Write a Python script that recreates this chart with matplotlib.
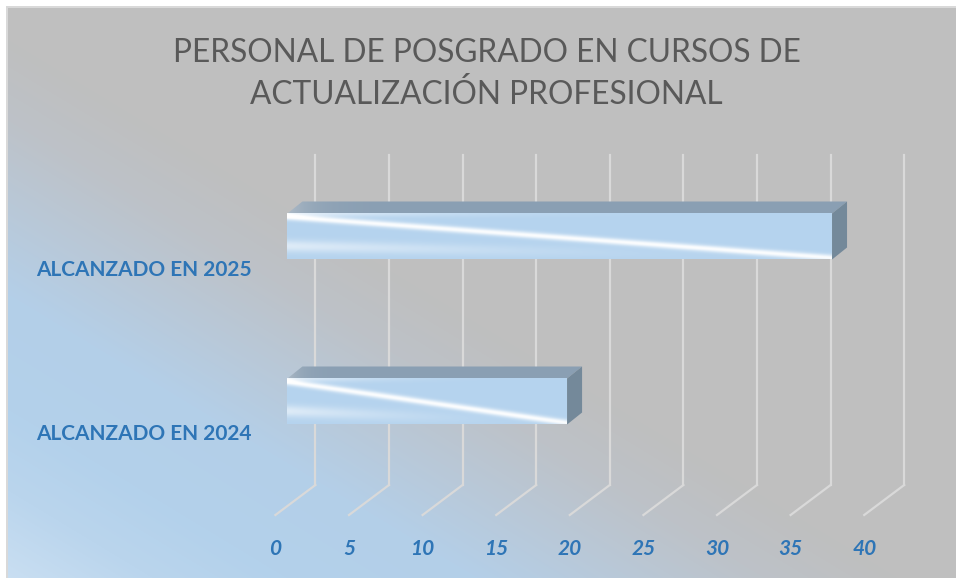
import numpy as np
import matplotlib.pyplot as plt
from matplotlib.patches import Polygon
from matplotlib.colors import to_rgb

categories = ['ALCANZADO EN 2024', 'ALCANZADO EN 2025']
values = [19, 37]
ticks = [0, 5, 10, 15, 20, 25, 30, 35, 40]
title = 'PERSONAL DE POSGRADO EN CURSOS DE\nACTUALIZACIÓN PROFESIONAL'

W, H = 956, 578
blue_txt = '#2E75B6'
grid_c = '#D9D9D9'

fig = plt.figure(figsize=(W / 100, H / 100), dpi=100)

# fondo: degradado lineal a 45 grados, azul abajo a la izquierda y gris arriba
bg = fig.add_axes([0, 0, 1, 1], zorder=0)
yy, xx = np.mgrid[0:H, 0:W]
t = (xx / W + (H - yy) / H) / 2
stops_t = [0, 0.08, 0.15, 0.25, 0.33, 0.40, 0.47]
stops_c = ['#CADFF2', '#BAD5ED', '#B3D1EB', '#B4CFE8', '#B9C8D7', '#BDC2C8', '#BFBFBF']
img = np.zeros((H, W, 3))
for k in range(3):
    img[..., k] = np.interp(t, stops_t, [to_rgb(c)[k] for c in stops_c])
img[:6, :] = 1
img[:, :6] = 1
img[6:8, 6:] = to_rgb(grid_c)
img[6:, 6:8] = to_rgb(grid_c)
bg.imshow(img, aspect='auto', interpolation='nearest')
bg.axis('off')

# plano frontal del grafico 3D
x0px, ppu = 275.4, 14.72
front_bot, front_top = 515, 185
ax = fig.add_axes([x0px / W, (H - front_bot) / H, 40 * ppu / W, (front_bot - front_top) / H], zorder=1)
ax.set_facecolor('none')
for s in ax.spines.values():
    s.set_visible(False)

cat_px = (front_bot - front_top) / 2
dep_x, dep_y = 40 / ppu, 30 / cat_px

# rejilla: pared del fondo + piso
for tk in ticks:
    ax.plot([tk + dep_x, tk + dep_x], [-0.5 + dep_y, 1.5 + dep_y], color=grid_c, lw=1.6, clip_on=False, zorder=1)
    ax.plot([tk, tk + dep_x], [-0.5, -0.5 + dep_y], color=grid_c, lw=1.6, clip_on=False, zorder=1)

# brillo de la cara frontal
uu, ww = np.meshgrid(np.linspace(0, 1, 400), np.linspace(0, 1, 80))
d = ww - (0.08 + 0.9 * uu)
shine = 0.95 * np.exp(-(d / 0.07) ** 2)
shine += 0.55 * np.exp(-((ww - (0.72 + 0.25 * uu)) / 0.13) ** 2) * (1 - uu) ** 2
shine += 0.6 * np.exp(-(ww / 0.08) ** 2) * (1 - uu) ** 3
shine = np.clip(shine, 0, 1)
base = np.array(to_rgb('#B5D3EE'))
face = base + (1 - base) * shine[..., None]

# cara superior: un poco mas clara en la esquina izquierda
uu2 = np.linspace(0, 1, 300)[None, :]
top_base = np.array(to_rgb('#8A9FB3'))
top_light = np.array(to_rgb('#AFBCC8'))
fade = np.exp(-uu2 / 0.04)[..., None]

bx0 = 12 / ppu
boff = 31 / cat_px
bh = 46 / cat_px
bdx, bdy = 15 / ppu, 12 / cat_px
for i, val in enumerate(values):
    yc = i + boff
    yb, yt = yc - bh / 2, yc + bh / 2
    ax.imshow(face, extent=(bx0, bx0 + val, yb, yt), aspect='auto', zorder=3, interpolation='bilinear')
    top = Polygon([(bx0, yt), (bx0 + val, yt), (bx0 + val + bdx, yt + bdy), (bx0 + bdx, yt + bdy)],
                  closed=True, facecolor='none', edgecolor='none', zorder=3)
    ax.add_patch(top)
    top_img = top_base + (top_light - top_base) * fade * np.ones((2, 1, 1))
    im = ax.imshow(top_img, extent=(bx0, bx0 + val + bdx, yt, yt + bdy), aspect='auto', zorder=3,
                   interpolation='bilinear')
    im.set_clip_path(top)
    side = Polygon([(bx0 + val, yb), (bx0 + val, yt), (bx0 + val + bdx, yt + bdy), (bx0 + val + bdx, yb + bdy)],
                   closed=True, facecolor='#74899A', edgecolor='none', zorder=3)
    ax.add_patch(side)

ax.set_xlim(0, 40)
ax.set_ylim(-0.5, 1.5)

ax.set_yticks([0, 1], categories)
ax.set_xticks(ticks, [str(tk) for tk in ticks])
ax.tick_params(axis='both', length=0)
ax.tick_params(axis='y', pad=17)
ax.tick_params(axis='x', pad=17)
for lab in ax.get_yticklabels():
    lab.set_fontfamily('Lato')
    lab.set_fontweight('bold')
    lab.set_fontsize(15)
    lab.set_color(blue_txt)
for lab in ax.get_xticklabels():
    lab.set_fontfamily('Lato')
    lab.set_fontweight('bold')
    lab.set_fontstyle('italic')
    lab.set_fontsize(15)
    lab.set_color(blue_txt)

fig.text(486.5 / W, 1 - 74 / H, title, ha='center', va='center', fontsize=22.8,
         color='#595959', family='Lato', linespacing=1.48)

fig.savefig('out.png', dpi=100)
